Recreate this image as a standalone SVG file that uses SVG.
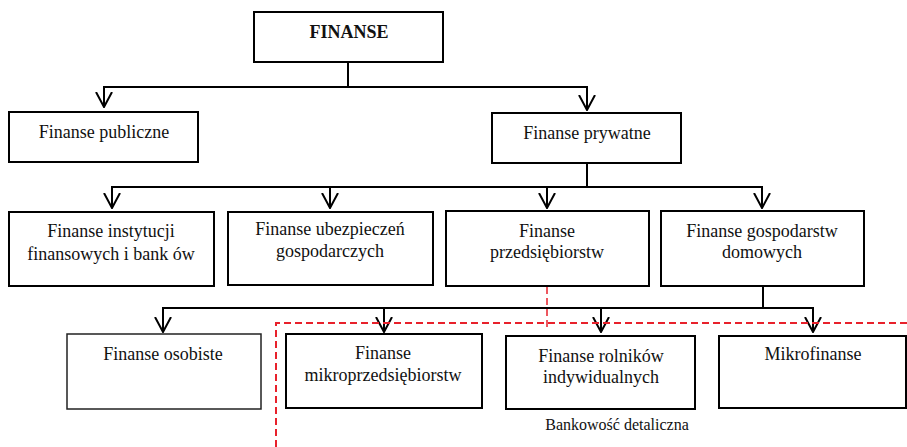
<svg xmlns="http://www.w3.org/2000/svg" width="907" height="447" viewBox="0 0 907 447">
<defs>
<style>
.box{fill:#fff;stroke:#000;stroke-width:2}
.thin{stroke-width:1.5;stroke:#222}
.lbl{font-family:'Liberation Serif','DejaVu Serif',serif;font-size:18px;fill:#111;text-anchor:middle}
.b{font-weight:bold}
.small{font-size:16px}
.conn{fill:none;stroke:#000;stroke-width:2}
.red{fill:none;stroke:#e8212b;stroke-width:2;stroke-dasharray:7 4}
.redthin{fill:none;stroke:#e8212b;stroke-width:1.5;stroke-dasharray:7 4}
</style>
<marker id="arr" viewBox="0 0 16 18" refX="15" refY="9" markerWidth="16" markerHeight="18" markerUnits="userSpaceOnUse" orient="auto">
<path d="M0,1 L15,9 L0,17" fill="none" stroke="#000" stroke-width="2"/>
</marker>
</defs>
<rect width="907" height="447" fill="#fff"/>

<g id="connectors">
<path class="conn" d="M348,62 V87 H104 V107" marker-end="url(#arr)"/>
<path class="conn" d="M348,87 H587 V110" marker-end="url(#arr)"/>
<path class="conn" d="M587,163 V187 H112 V208" marker-end="url(#arr)"/>
<path class="conn" d="M330,187 V208" marker-end="url(#arr)"/>
<path class="conn" d="M547,187 V208" marker-end="url(#arr)"/>
<path class="conn" d="M587,187 H762 V208" marker-end="url(#arr)"/>
<path class="conn" d="M763,286 V308 H163 V332" marker-end="url(#arr)"/>
<path class="conn" d="M384,308 V332" marker-end="url(#arr)"/>
<path class="conn" d="M601,308 V332" marker-end="url(#arr)"/>
<path class="conn" d="M763,308 H813 V332" marker-end="url(#arr)"/>
</g>

<g id="retail-banking-boundary" font-family="Liberation Serif, serif">
<path class="redthin" d="M547,287 V328"/>
<path class="red" d="M276,447 V323 H907"/>
<text class="lbl small" x="617" y="430">Bankowość detaliczna</text>
</g>

<g id="finanse">
<rect class="box" x="254" y="12" width="189" height="50"/>
<text class="lbl b" x="349" y="38">FINANSE</text>
</g>

<g id="finanse-publiczne">
<rect class="box" x="9" y="112" width="189" height="50"/>
<text class="lbl" x="104" y="138">Finanse publiczne</text>
</g>

<g id="finanse-prywatne">
<rect class="box" x="492" y="113" width="189" height="50"/>
<text class="lbl" x="587" y="139">Finanse prywatne</text>
</g>

<g id="finanse-instytucji">
<rect class="box" x="9" y="212" width="205" height="74"/>
<text class="lbl" x="111" y="237">Finanse instytucji</text>
<text class="lbl" x="111" y="260">finansowych i bank ów</text>
</g>

<g id="finanse-ubezpieczen">
<rect class="box" x="228" y="212" width="205" height="73"/>
<text class="lbl" x="330" y="235">Finanse ubezpieczeń</text>
<text class="lbl" x="330" y="257">gospodarczych</text>
</g>

<g id="finanse-przedsiebiorstw">
<rect class="box" x="446" y="211" width="203" height="75"/>
<text class="lbl" x="547" y="237">Finanse</text>
<text class="lbl" x="547" y="258">przedsiębiorstw</text>
</g>

<g id="finanse-gospodarstw">
<rect class="box" x="661" y="211" width="203" height="75"/>
<text class="lbl" x="762" y="237">Finanse gospodarstw</text>
<text class="lbl" x="762" y="258">domowych</text>
</g>

<g id="finanse-osobiste">
<rect class="box thin" x="67" y="334" width="194" height="75"/>
<text class="lbl" x="163" y="360">Finanse osobiste</text>
</g>

<g id="finanse-mikroprzedsiebiorstw">
<rect class="box" x="286" y="334" width="196" height="74"/>
<text class="lbl" x="383" y="359">Finanse</text>
<text class="lbl" x="383" y="381">mikroprzedsiębiorstw</text>
</g>

<g id="finanse-rolnikow">
<rect class="box" x="506" y="336" width="189" height="73"/>
<text class="lbl" x="601" y="362">Finanse rolników</text>
<text class="lbl" x="601" y="383">indywidualnych</text>
</g>

<g id="mikrofinanse">
<rect class="box" x="719" y="336" width="187" height="72"/>
<text class="lbl" x="813" y="360">Mikrofinanse</text>
</g>
</svg>
